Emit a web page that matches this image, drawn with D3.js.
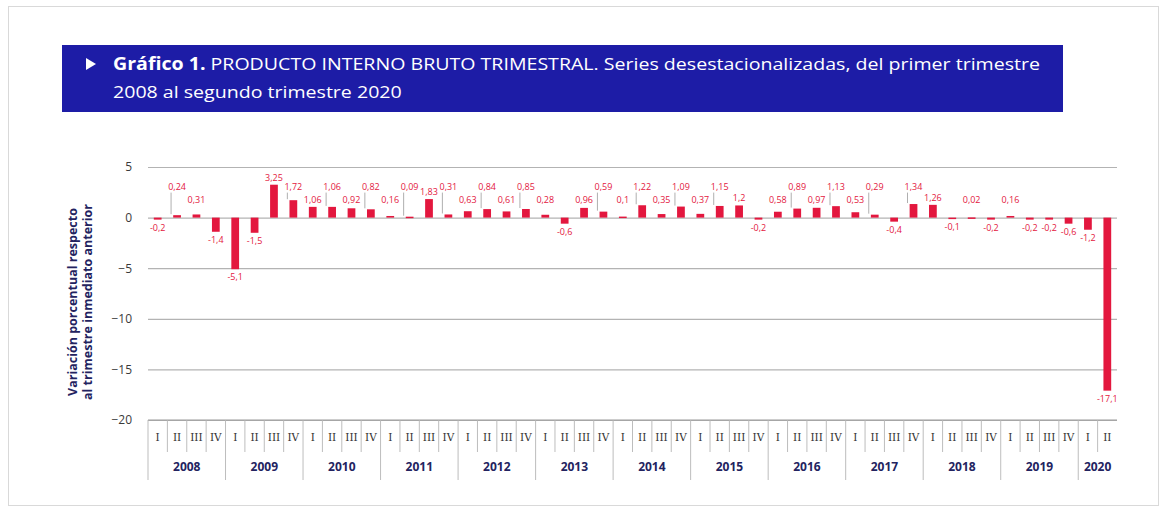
<!DOCTYPE html>
<html>
<head>
<meta charset="utf-8">
<script src="https://cdn.jsdelivr.net/npm/d3@7"></script>
<style>
  body { margin: 0; background: #fff; }
  svg { display: block; font-family: "Open Sans", "DejaVu Sans", sans-serif; }
</style>
</head>
<body>
<div class="chart"></div>
<script>
  // Trimestres y variaciones (%) respecto al trimestre anterior
  const years = ["2008", "2009", "2010", "2011", "2012", "2013", "2014",
    "2015", "2016", "2017", "2018", "2019", "2020"];
  const quarterNames = ["I", "II", "III", "IV"];
  const quartersPerYear = [4, 4, 4, 4, 4, 4, 4, 4, 4, 4, 4, 4, 2];
  const values = [
    -0.2, 0.24, 0.31, -1.4,
    -5.1, -1.5, 3.25, 1.72,
    1.06, 1.06, 0.92, 0.82,
    0.16, 0.09, 1.83, 0.31,
    0.63, 0.84, 0.61, 0.85,
    0.28, -0.6, 0.96, 0.59,
    0.1, 1.22, 0.35, 1.09,
    0.37, 1.15, 1.2, -0.2,
    0.58, 0.89, 0.97, 1.13,
    0.53, 0.29, -0.4, 1.34,
    1.26, -0.1, 0.02, -0.2,
    0.16, -0.2, -0.2, -0.6,
    -1.2, -17.1
  ];
  const yTicks = [5, 0, -5, -10, -15, -20];

  const width = 1167, height = 512;
  const red = "#e3173e", navy = "#23235f";

  // build category list
  const cats = [];
  years.forEach((yr, yi) => {
    for (let q = 0; q < quartersPerYear[yi]; q++) {
      cats.push({ key: yr + "-" + quarterNames[q], year: yr, q: quarterNames[q], qi: q });
    }
  });
  const data = cats.map((c, i) => Object.assign({}, c, { value: values[i], i: i }));

  const svg = d3.select(".chart").append("svg")
    .attr("width", width)
    .attr("height", height);

  // outer frame
  svg.append("rect")
    .attr("x", 8.5).attr("y", 6.5)
    .attr("width", 1150).attr("height", 499)
    .attr("fill", "#fff")
    .attr("stroke", "#d9d9d9");

  // title banner
  svg.append("rect")
    .attr("x", 62).attr("y", 45)
    .attr("width", 1001).attr("height", 67)
    .attr("fill", "#1d1ca6");

  svg.append("path")
    .attr("d", "M86,58 L96,64 L86,70 Z")
    .attr("fill", "#fff");

  const t1 = svg.append("text")
    .attr("x", 113).attr("y", 70)
    .attr("fill", "#fff")
    .style("font-size", "17px");
  t1.append("tspan").attr("font-weight", "bold").text("Gráfico 1.");
  t1.append("tspan").text(" PRODUCTO INTERNO BRUTO TRIMESTRAL. Series desestacionalizadas, del primer trimestre");

  const t2 = svg.append("text")
    .attr("x", 113).attr("y", 98)
    .attr("fill", "#fff")
    .style("font-size", "17px")
    .text("2008 al segundo trimestre 2020");

  // squeeze to a condensed look
  const natural = t1.node().getComputedTextLength();
  const ratio = 927 / natural;
  t1.attr("textLength", 927).attr("lengthAdjust", "spacingAndGlyphs");
  t2.attr("textLength", t2.node().getComputedTextLength() * ratio)
    .attr("lengthAdjust", "spacingAndGlyphs");

  // scales
  const x = d3.scaleBand()
    .domain(data.map(d => d.key))
    .range([148, 1117])
    .paddingInner(0.6)
    .paddingOuter(0.3);
  const step = x.step();

  const y = d3.scaleLinear()
    .domain([-20, 5])
    .range([420, 167]);

  // grid lines + y labels
  const yAxis = svg.append("g")
    .attr("transform", "translate(148,0)")
    .call(d3.axisLeft(y).tickValues(yTicks).tickSize(-(1117 - 148)).tickPadding(16).tickFormat(d3.format("d")));
  yAxis.select(".domain").remove();
  yAxis.selectAll(".tick line").attr("stroke", "#b3b3b3").attr("stroke-width", 1.2);
  yAxis.selectAll(".tick text")
    .attr("fill", "#3a3a3a")
    .style("font-size", "12px")
    .style("font-family", "'Open Sans', sans-serif");

  // y axis title
  const yTitle = svg.append("text")
    .attr("transform", "translate(77,302) rotate(-90)")
    .attr("text-anchor", "middle")
    .attr("fill", navy)
    .style("font-size", "12.5px")
    .style("font-weight", "bold");
  yTitle.append("tspan").attr("x", 0).attr("dy", 0).text("Variación porcentual respecto");
  yTitle.append("tspan").attr("x", 0).attr("dy", 15).text("al trimestre inmediato anterior");

  // bars
  svg.append("g").selectAll("rect")
    .data(data)
    .join("rect")
    .attr("x", d => x(d.key))
    .attr("width", x.bandwidth())
    .attr("y", d => y(Math.max(0, d.value)))
    .attr("height", d => Math.max(1.5, Math.abs(y(d.value) - y(0))))
    .attr("fill", red);

  // value labels (staggered rows for the positive ones)
  const fmt = v => String(v).replace(".", ",");
  const zeroY = y(0);
  function labelY(d) {
    if (d.value < 0) return y(d.value) + 11;
    const top = y(d.value);
    const row = d.i % 2 === 1 ? zeroY - 28 : zeroY - 15;
    return Math.min(row, top - 4);
  }

  const labels = svg.append("g");
  // leader lines for the upper row
  labels.selectAll("line")
    .data(data.filter(d => d.value > 0 && d.i % 2 === 1 && labelY(d) < y(d.value) - 8))
    .join("line")
    .attr("x1", d => x(d.key) + x.bandwidth() / 2 - 6)
    .attr("x2", d => x(d.key) + x.bandwidth() / 2 - 6)
    .attr("y1", d => labelY(d) + 3)
    .attr("y2", d => y(d.value) - 1)
    .attr("stroke", "#9a9a9a")
    .attr("stroke-width", 0.8);

  labels.selectAll("text")
    .data(data)
    .join("text")
    .attr("x", d => x(d.key) + x.bandwidth() / 2)
    .attr("y", labelY)
    .attr("text-anchor", "middle")
    .attr("fill", red)
    .style("font-size", "9px")
    .text(d => fmt(d.value));

  // category table below the axis
  const table = svg.append("g");
  const x0 = x.range()[0], x1 = x.range()[1];
  table.append("line")
    .attr("x1", x0).attr("x2", x1)
    .attr("y1", y(-20)).attr("y2", y(-20))
    .attr("stroke", "#9a9a9a");

  // separators between quarters (short) and years (long)
  table.selectAll("line.sep")
    .data(data)
    .join("line")
    .attr("class", "sep")
    .attr("x1", d => x(d.key) - (step - x.bandwidth()) / 2)
    .attr("x2", d => x(d.key) - (step - x.bandwidth()) / 2)
    .attr("y1", y(-20))
    .attr("y2", d => d.qi === 0 ? 480 : 452)
    .attr("stroke", "#b5b5b5")
    .attr("stroke-width", 0.9);

  table.selectAll("text.q")
    .data(data)
    .join("text")
    .attr("class", "q")
    .attr("x", d => x(d.key) + x.bandwidth() / 2)
    .attr("y", 441)
    .attr("text-anchor", "middle")
    .attr("fill", "#333")
    .style("font-size", "10.5px")
    .style("font-family", "'DejaVu Serif', serif")
    .text(d => d.q);

  const yearData = years.map(yr => {
    const ds = data.filter(d => d.year === yr);
    const a = x(ds[0].key), b = x(ds[ds.length - 1].key) + x.bandwidth();
    return { year: yr, mid: (a + b) / 2 };
  });
  table.selectAll("text.yr")
    .data(yearData)
    .join("text")
    .attr("class", "yr")
    .attr("x", d => d.mid)
    .attr("y", 471)
    .attr("text-anchor", "middle")
    .attr("fill", navy)
    .style("font-size", "12px")
    .style("font-weight", "bold")
    .text(d => d.year);
</script>
</body>
</html>
